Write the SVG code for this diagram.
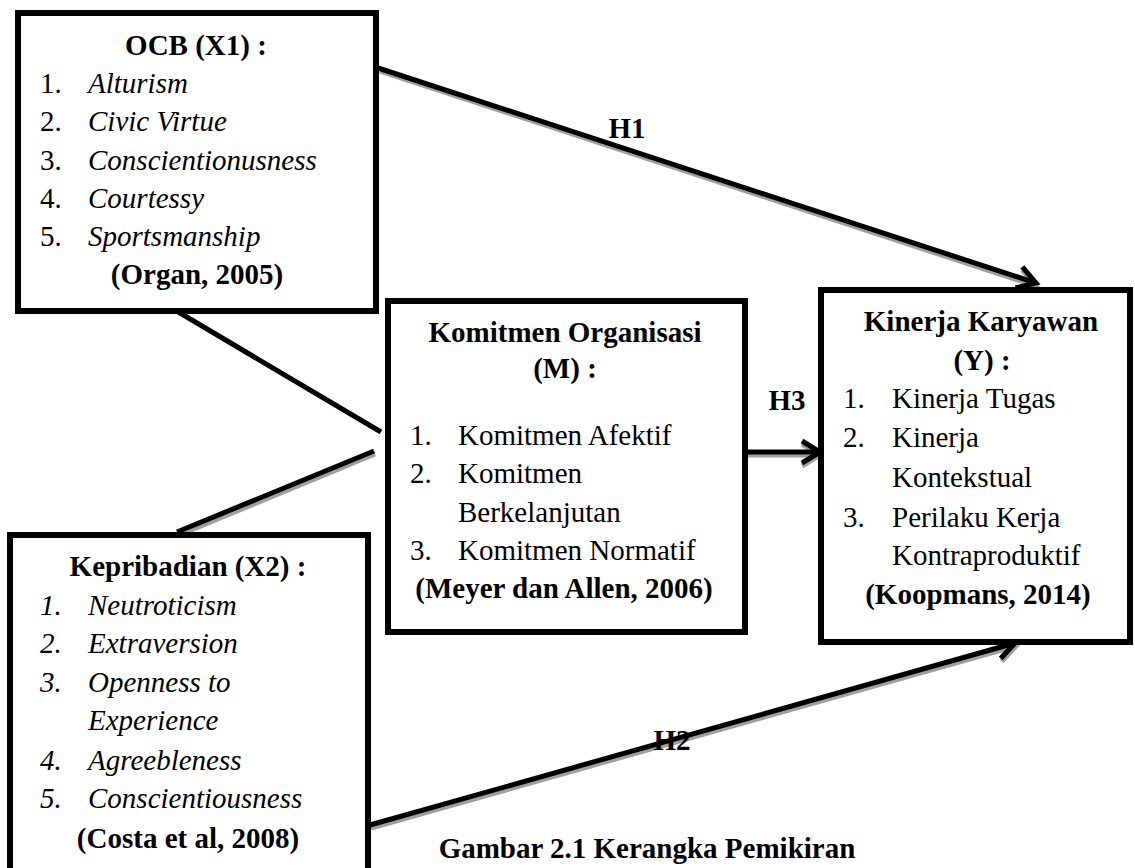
<svg xmlns="http://www.w3.org/2000/svg" width="1135" height="868" viewBox="0 0 1135 868">
<style>
.box{fill:#fff;stroke:#000;stroke-width:6}
text{font-family:"Liberation Serif","Times New Roman",serif;font-size:29px;fill:#000}
.b{font-weight:bold}
.i{font-style:italic}
.c{text-anchor:middle}
.ln{stroke:#000;stroke-width:5;fill:none}
.sh{stroke:#a0a0a0;stroke-width:5;fill:none}
</style>
<defs>
<marker id="ah" markerUnits="userSpaceOnUse" markerWidth="30" markerHeight="30" viewBox="-24 -15 30 30" refX="0" refY="0" orient="auto">
<path d="M -18 -11 L 0 0 L -18 11" fill="none" stroke="#000" stroke-width="5" stroke-linejoin="miter"/>
</marker>
<marker id="ahs" markerUnits="userSpaceOnUse" markerWidth="30" markerHeight="30" viewBox="-24 -15 30 30" refX="0" refY="0" orient="auto">
<path d="M -18 -11 L 0 0 L -18 11" fill="none" stroke="#a0a0a0" stroke-width="5"/>
</marker>
</defs>
<rect width="1135" height="868" fill="#fff"/>

<g id="connectors">
<line class="sh" x1="380" y1="71" x2="1036" y2="286" marker-end="url(#ahs)"/>
<line class="ln" x1="378" y1="68" x2="1036" y2="283" marker-end="url(#ah)"/>
<line class="ln" x1="175" y1="310" x2="381" y2="432"/>
<line class="sh" x1="179" y1="535" x2="375" y2="454"/>
<line class="ln" x1="177" y1="532" x2="374" y2="451"/>
<line class="sh" x1="748" y1="455" x2="820" y2="455" marker-end="url(#ahs)"/>
<line class="ln" x1="748" y1="452" x2="820" y2="452" marker-end="url(#ah)"/>
<line class="sh" x1="371" y1="828" x2="1016" y2="646" marker-end="url(#ahs)"/>
<line class="ln" x1="370" y1="825" x2="1015" y2="643" marker-end="url(#ah)"/>
<text class="b c" x="627" y="138">H1</text>
<text class="b c" x="787" y="410">H3</text>
<text class="b c" x="672" y="750">H2</text>
</g>

<g id="ocb">
<rect class="box" x="18" y="13" width="358" height="298"/>
<text class="b c" x="196" y="55">OCB (X1) :</text>
<text x="40" y="93">1.</text><text class="i" x="88" y="93">Alturism</text>
<text x="40" y="131">2.</text><text class="i" x="88" y="131">Civic Virtue</text>
<text x="40" y="170">3.</text><text class="i" x="88" y="170">Conscientionusness</text>
<text x="40" y="208">4.</text><text class="i" x="88" y="208">Courtessy</text>
<text x="40" y="246">5.</text><text class="i" x="88" y="246">Sportsmanship</text>
<text class="b c" x="197" y="284">(Organ, 2005)</text>
</g>

<g id="kepribadian">
<rect class="box" x="10" y="535" width="358" height="400"/>
<text class="b c" x="188" y="576">Kepribadian (X2) :</text>
<text class="i" x="40" y="615">1.</text><text class="i" x="88" y="615">Neutroticism</text>
<text class="i" x="40" y="653">2.</text><text class="i" x="88" y="653">Extraversion</text>
<text class="i" x="40" y="692">3.</text><text class="i" x="88" y="692">Openness to</text>
<text class="i" x="88" y="730">Experience</text>
<text class="i" x="40" y="770">4.</text><text class="i" x="88" y="770">Agreebleness</text>
<text class="i" x="40" y="808">5.</text><text class="i" x="88" y="808">Conscientiousness</text>
<text class="b c" x="188" y="848">(Costa et al, 2008)</text>
</g>

<g id="komitmen">
<rect class="box" x="388" y="301" width="357" height="331"/>
<text class="b c" x="565" y="342">Komitmen Organisasi</text>
<text class="b c" x="565" y="378">(M) :</text>
<text x="410" y="445">1.</text><text x="458" y="445">Komitmen Afektif</text>
<text x="410" y="483">2.</text><text x="458" y="483">Komitmen</text>
<text x="458" y="522">Berkelanjutan</text>
<text x="410" y="560">3.</text><text x="458" y="560">Komitmen Normatif</text>
<text class="b c" x="564" y="598">(Meyer dan Allen, 2006)</text>
</g>

<g id="kinerja">
<rect class="box" x="821" y="290" width="309" height="352"/>
<text class="b c" x="981" y="331">Kinerja Karyawan</text>
<text class="b c" x="982" y="370">(Y) :</text>
<text x="843" y="408">1.</text><text x="892" y="408">Kinerja Tugas</text>
<text x="843" y="447">2.</text><text x="892" y="447">Kinerja</text>
<text x="892" y="487">Kontekstual</text>
<text x="843" y="527">3.</text><text x="892" y="527">Perilaku Kerja</text>
<text x="892" y="565">Kontraproduktif</text>
<text class="b c" x="978" y="604">(Koopmans, 2014)</text>
</g>

<text class="b c" x="647" y="858">Gambar 2.1 Kerangka Pemikiran</text>
</svg>
